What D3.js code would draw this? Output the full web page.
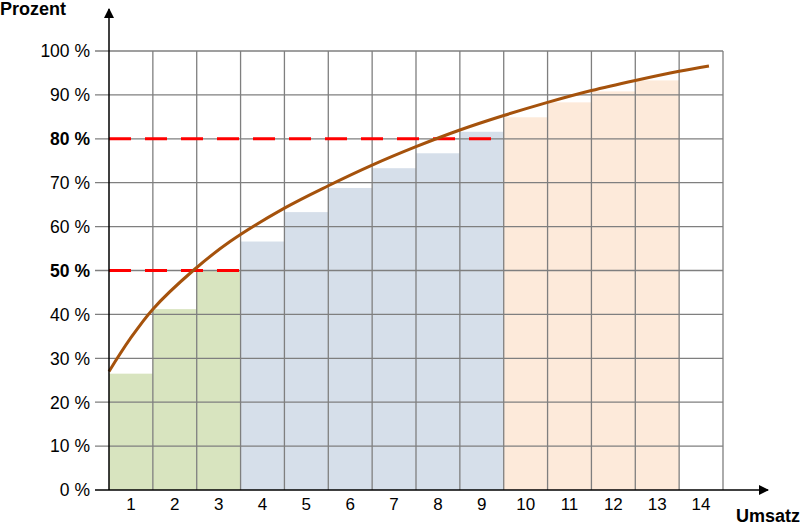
<!DOCTYPE html>
<html>
<head>
  <meta charset="utf-8">
  <script src="https://d3js.org/d3.v7.min.js"></script>
  <style>
    body { margin: 0; background: #fff; }
    svg text { font-family: "Liberation Sans", Arial, sans-serif; }
  </style>
</head>
<body>
<div id="vis"></div>

<script>
// cumulative share per rank (percent)
const ranks = [1, 2, 3, 4, 5, 6, 7, 8, 9, 10, 11, 12, 13, 14];
const cumShare = [26.5, 41.2, 50, 56.6, 63.3, 68.8, 73.3, 76.7, 81.6, 84.9, 88.3, 90.8, 93.3, null];
const groups = ['A', 'A', 'A', 'B', 'B', 'B', 'B', 'B', 'B', 'C', 'C', 'C', 'C', 'C'];

// trend curve: position in columns -> percent
const curveX = [0, 0.48, 1, 1.92, 2.76, 4, 5, 6, 7, 8, 9, 10, 11, 12, 13, 13.68];
const curveY = [27, 34.4, 41.2, 50, 56.6, 64.2, 69.3, 74, 78.2, 82, 85.3, 88.3, 91, 93.3, 95.4, 96.6];

const yTicks = [0, 10, 20, 30, 40, 50, 60, 70, 80, 90, 100];
const marks = [{ value: 80, upTo: 9 }, { value: 50, upTo: 3 }];

const width = 800;
const height = 525;

const x = d3.scaleLinear().domain([0, 14]).range([109, 723]);
const y = d3.scaleLinear().domain([0, 100]).range([490, 51]);

const groupColor = d3.scaleOrdinal()
  .domain(['A', 'B', 'C'])
  .range(['#d8e4bf', '#d6dfea', '#fdeada']);

const svg = d3.select('#vis')
  .append('svg')
  .attr('width', width)
  .attr('height', height);

svg.append('defs').append('marker')
  .attr('id', 'arrow')
  .attr('viewBox', '0 0 10 10')
  .attr('refX', 9)
  .attr('refY', 5)
  .attr('markerWidth', 10)
  .attr('markerHeight', 10)
  .attr('markerUnits', 'userSpaceOnUse')
  .attr('orient', 'auto')
  .append('path')
  .attr('d', 'M0,0 L10,5 L0,10 z')
  .attr('fill', '#000');

// bars
const bars = ranks.map((r, i) => ({ rank: r, value: cumShare[i], group: groups[i] }))
  .filter(d => d.value != null);

svg.append('g')
  .selectAll('rect')
  .data(bars)
  .enter()
  .append('rect')
  .attr('x', d => x(d.rank - 1))
  .attr('width', x(1) - x(0))
  .attr('y', d => y(d.value))
  .attr('height', d => y(0) - y(d.value))
  .attr('fill', d => groupColor(d.group));

// grid
const grid = svg.append('g')
  .attr('stroke', '#7f7f7f')
  .attr('stroke-width', 1.3);

grid.selectAll('.hline')
  .data(yTicks.filter(t => t > 0))
  .enter()
  .append('line')
  .attr('x1', x(0) - 14)
  .attr('x2', x(14))
  .attr('y1', d => y(d))
  .attr('y2', d => y(d));

grid.selectAll('.vline')
  .data(ranks)
  .enter()
  .append('line')
  .attr('x1', d => x(d))
  .attr('x2', d => x(d))
  .attr('y1', y(100))
  .attr('y2', y(0));

// dashed thresholds
svg.append('g')
  .selectAll('line')
  .data(marks)
  .enter()
  .append('line')
  .attr('x1', x(0))
  .attr('x2', d => x(d.upTo))
  .attr('y1', d => y(d.value))
  .attr('y2', d => y(d.value))
  .attr('stroke', '#ff0000')
  .attr('stroke-width', 3)
  .attr('stroke-dasharray', '22,14');

// curve
const line = d3.line()
  .x(d => x(d[0]))
  .y(d => y(d[1]))
  .curve(d3.curveCatmullRom.alpha(0.5));

svg.append('path')
  .datum(curveX.map((cx, i) => [cx, curveY[i]]))
  .attr('d', line)
  .attr('fill', 'none')
  .attr('stroke', '#a5520c')
  .attr('stroke-width', 3);

// axes
svg.append('line')
  .attr('x1', x(0) - 14)
  .attr('x2', 768)
  .attr('y1', y(0))
  .attr('y2', y(0))
  .attr('stroke', '#000')
  .attr('stroke-width', 1.5)
  .attr('marker-end', 'url(#arrow)');

svg.append('line')
  .attr('x1', x(0))
  .attr('x2', x(0))
  .attr('y1', y(0))
  .attr('y2', 9)
  .attr('stroke', '#000')
  .attr('stroke-width', 1.5)
  .attr('marker-end', 'url(#arrow)');

// y labels
svg.append('g')
  .selectAll('text')
  .data(yTicks)
  .enter()
  .append('text')
  .attr('x', 90)
  .attr('y', d => y(d))
  .attr('dy', '0.36em')
  .attr('text-anchor', 'end')
  .style('font-size', '17.5px')
  .style('font-weight', d => (d === 80 || d === 50) ? 'bold' : 'normal')
  .attr('fill', '#000')
  .text(d => d + ' %');

// x labels
svg.append('g')
  .selectAll('text')
  .data(ranks)
  .enter()
  .append('text')
  .attr('x', d => x(d - 0.5))
  .attr('y', 510)
  .attr('text-anchor', 'middle')
  .style('font-size', '17px')
  .text(d => d);

svg.append('text')
  .attr('x', 0)
  .attr('y', 15)
  .style('font-size', '18px')
  .style('font-weight', 'bold')
  .text('Prozent');

svg.append('text')
  .attr('x', 800)
  .attr('y', 522)
  .attr('text-anchor', 'end')
  .style('font-size', '18px')
  .style('font-weight', 'bold')
  .text('Umsatz');
</script>
</body>
</html>
